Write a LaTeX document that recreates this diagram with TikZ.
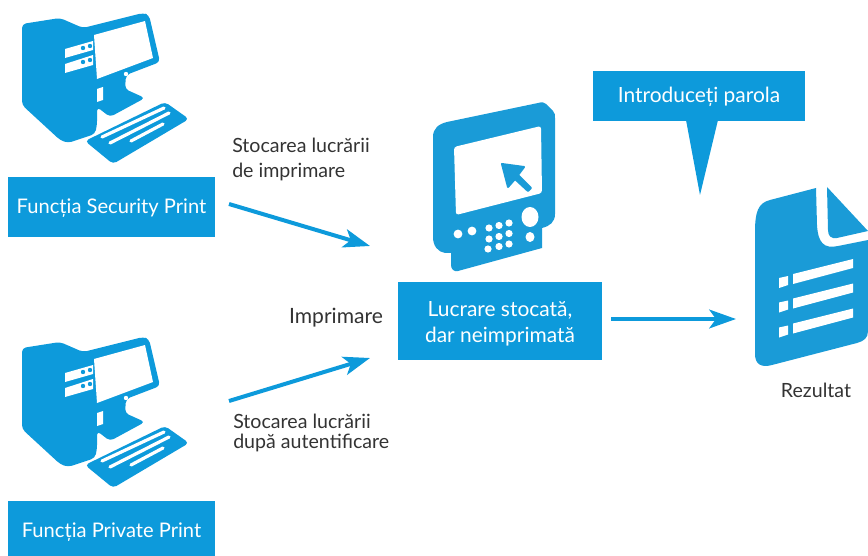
\documentclass[tikz,border=0pt]{standalone}
\usepackage{fontspec}
\setmainfont{Lato}
\usetikzlibrary{arrows.meta}
\usetikzlibrary{positioning}
\definecolor{xblue}{HTML}{1A9BD7}
\definecolor{xbox}{HTML}{0D9ADB}
\definecolor{xtext}{HTML}{333333}
\newcommand{\lowered}[2]{\raisebox{-#1}[\height][\depth]{#2}}

\begin{document}
\begin{tikzpicture}[
    x=0.75pt, y=-0.75pt,
    box/.style = {shape=rectangle, fill=xbox, text=white, align=center,
      inner sep=0pt, font=\fontsize{15.1pt}{19.5pt}\selectfont},
    bigbox/.style = {box, font=\fontsize{15.7pt}{19.5pt}\selectfont},
    label/.style = {text=xtext, align=left, inner sep=0pt,
      font=\fontsize{14.7pt}{16pt}\selectfont},
    flow/.style = {draw=xbox, line width=3pt,
      -{Stealth[length=20pt,width=14pt,inset=5pt]}},
    computer/.pic = {
      \fill[xbox, rounded corners=3pt] (22,24) -- (60,18) -- (83,28) -- (143,13) -- (149,15) -- (160,62) -- (126,75)
        -- (125,89) -- (145,98) -- (110,117) -- (97,107) -- (97,125) -- (95,134) -- (68,143) -- (60,140) -- (22,105) -- cycle;
      \fill[white] (94,35) -- (145,21) -- (153,58) -- (97,79) -- cycle;
      \fill[white] (65,49) -- (93,41) -- (93,50) -- (65,58) -- cycle;
      \fill[white] (65,64) -- (93,55) -- (93,65) -- (65,73) -- cycle;
      \fill[white] (97,89) -- (103,87) -- (103,100) -- (97,102) -- cycle;
      \fill[white] (126,74) circle[radius=2.2];
      \foreach \px/\py in {83/48, 90/46, 83/62, 90/60}
        \fill[xbox] (\px,\py) circle[radius=2.2];
      \fill[xbox, rounded corners=3pt] (165,102) -- (189,119) -- (113,164) -- (85,141) -- cycle;
      \draw[white, line width=2.4pt, line cap=round] (102,137) -- (164,108);
      \draw[white, line width=2.4pt, line cap=round] (110,143) -- (169,113);
      \draw[white, line width=2.4pt, line cap=round] (131,141) -- (163,124);
    }]

  % computers
  \pic at (0,0) {computer};
  \pic at (0,324) {computer};

  \node[box, minimum width=155.25pt, minimum height=45pt] (security) at (111.5,207) {\lowered{0.75pt}{Funcția Security Print}};
  \node[box, minimum width=155.25pt, minimum height=41.25pt] (private) at (111.5,528.5) {\lowered{3pt}{Funcția Private Print}};

  % panel
  \fill[xblue] (433,137) .. controls (433,128) and (439,124) .. (447,122) -- (538,103) .. controls (542,102) and (544,102) .. (546,104)
    -- (553,111) .. controls (555,113) and (555,115) .. (555,118) -- (555,214) .. controls (555,222) and (550,226) .. (542,228)
    -- (542,248) -- (458,271) .. controls (454,272) and (451,269) .. (451,265) -- (451,253) -- (445,253) .. controls (438,252) and (433,246) .. (433,237) -- cycle;
  \fill[white, rounded corners=2pt] (454,147) -- (541,126) -- (542,193) -- (456,215) -- cycle;
  \filldraw[xblue, line width=1.5pt, line join=round] (502,164) -- (524,167) -- (518,175) -- (531,188) -- (528,191) -- (515,179) -- (508,187) -- cycle;
  \fill[white] (530,217) ellipse[x radius=8.5, y radius=10];
  \fill[white] (530,237) ellipse[x radius=4.5, y radius=5];
  \foreach \px/\py in {458/234, 472/231}
    \fill[white] (\px,\py) circle[radius=4.4];
  \foreach \px/\py in {489/228, 499/225.5, 509/223, 489/239, 499/236.5, 509/233.5, 488/249, 499/246.5, 509/244}
    \fill[white] (\px,\py) circle[radius=3.6];

  \node[bigbox, minimum width=153pt, minimum height=58.5pt] (stored) at (500,321) {\lowered{2.25pt}{Lucrare stocată,}\\\lowered{2.25pt}{dar neimprimată}};

  % callout
  \node[bigbox, minimum width=159pt, minimum height=37.5pt] (password) at (699,96) {\lowered{0.75pt}{Introduceți parola}};
  \coordinate (tailtip) at (700,195);
  \fill[xbox] (686,120) -- (tailtip) -- (718,120) -- cycle;

  % result
  \fill[xblue] (755,232) .. controls (755,212) and (758,203) .. (770,200) -- (816,188) -- (817,225) .. controls (818,243) and (824,249) .. (838,246) -- (868,240)
    -- (868,331) .. controls (868,338) and (864,341) .. (857,343) -- (772,365) .. controls (761,368) and (755,364) .. (755,354) -- cycle;
  \fill[xblue] (827,187) -- (868,231) -- (837,238) .. controls (831,239) and (828,236) .. (828,230) -- cycle;
  \foreach \py in {0,24.5,49.5} {
    \fill[white] (793,274+\py) -- (853,259+\py) -- (853,268+\py) -- (793,284+\py) -- cycle;
    \fill[white] (779,278+\py) -- (788,276+\py) -- (788,285+\py) -- (779,288+\py) -- cycle;
  }
  \node[label, anchor=center] (result) at (816,390) {Rezultat};

  % labels
  \node[label, anchor=north west] (stock1) at (232,137.5) {Stocarea lucrării\\[2.75pt]de imprimare};
  \node[label, anchor=north west] (stock2) at (233,414) {Stocarea lucrării\\[-1.5pt]după autentificare};
  \node[label, anchor=center, font=\fontsize{15.8pt}{16pt}\selectfont] (print) at (336,318) {Imprimare};

  % arrows
  \coordinate (sec out) at (229,204);
  \coordinate (sec in) at (370,246);
  \coordinate (pri out) at (229,401);
  \coordinate (pri in) at (370,358);
  \coordinate (sto out) at (611,319);
  \coordinate (res in) at (736,319);
  \draw[flow] (sec out) -- (sec in);
  \draw[flow] (pri out) -- (pri in);
  \draw[flow] (sto out) -- (res in);

  \useasboundingbox (0,0) rectangle (868,556);
\end{tikzpicture}
\end{document}
